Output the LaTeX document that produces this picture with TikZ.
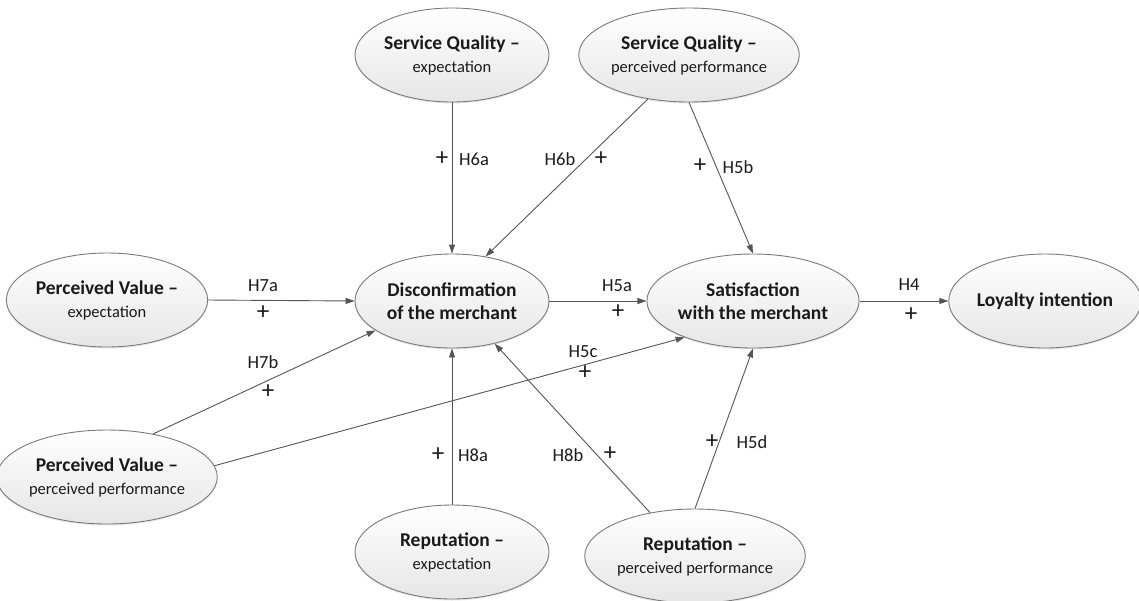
\documentclass[tikz,border=0pt]{standalone}
\usepackage{fontspec}
\setmainfont{Carlito}
\usetikzlibrary{shapes.geometric,arrows.meta,shadows}

\definecolor{ellborder}{HTML}{7A7A7A}
\definecolor{ellfill}{HTML}{E6E6E6}
\definecolor{linkgray}{HTML}{555555}
\definecolor{textdark}{HTML}{1A1A1A}

\newcommand\cname[1]{{\fontsize{19.5}{23}\selectfont\bfseries #1}}
\newcommand\csubtext[1]{{\fontsize{16.5}{23}\selectfont #1}}

\tikzset{
  construct/.style={ellipse, draw=ellborder, line width=0.9pt,
    top color=white, bottom color=ellfill,
    minimum width=194pt, minimum height=94pt, inner sep=0pt,
    align=center, text=textdark,
    font=\fontsize{19.5}{23}\selectfont,
    drop shadow={shadow xshift=0pt, shadow yshift=-1.5pt, opacity=0.18}},
  link/.style={draw=linkgray, line width=0.9pt,
    -{Triangle[length=9pt,width=6pt]}},
  lbl/.style={font=\fontsize{18.5}{20}\selectfont, text=textdark, inner sep=0pt},
  sign/.style={font=\fontsize{25}{26}\selectfont, text=textdark, inner sep=0pt}
}

\begin{document}
\begin{tikzpicture}[x=1pt, y=-1pt]
\useasboundingbox (0,0) rectangle (1139,600);

% constructs
\node[construct] (sqe)  at (452,55)  {\cname{Service Quality --}\\\csubtext{expectation}};
\node[construct] (sqp)  at (689,55)  {\cname{Service Quality --}\\\csubtext{perceived performance}};
\node[construct] (pve)  at (107,300) {\cname{Perceived Value --}\\\csubtext{expectation}};
\node[construct] (dis)  at (452,301) {\cname{Disconfirmation}\\\cname{of the merchant}};
\node[construct] (sat)  at (753,301) {\cname{Satisfaction}\\\cname{with the merchant}};
\node[construct, minimum width=186pt] (loy) at (1045,301) {\cname{Loyalty intention}};
\node[construct] (pvp)  at (107,477) {\cname{Perceived Value --}\\\csubtext{perceived performance}};
\node[construct] (repe) at (452,552) {\cname{Reputation --}\\\csubtext{expectation}};
\node[construct] (repp) at (695,556) {\cname{Reputation --}\\\csubtext{perceived performance}};

% hypothesised paths
\draw[link] (sqe.south) -- (dis.north);
\draw[link] (sqp.227) -- (dis.53.5);
\draw[link] (sqp.south) -- (sat.north);
\draw[link] (pve.east) -- (dis.west);
\draw[link] (pvp.43.7) -- (dis.201.8);
\draw[link] (pvp.6) -- (sat.208.6);
\draw[link] (dis.east) -- (sat.west);
\draw[link] (sat.east) -- (loy.west);
\draw[link] (repe.north) -- (dis.south);
\draw[link] (repp.136) -- (dis.-45);
\draw[link] (repp.north) -- (sat.south);

% path labels
\node[sign] (p6a) at (442,159) {+};
\node[lbl]  (h6a) at (474,159) {H6a};
\node[lbl]  (h6b) at (560,159) {H6b};
\node[sign] (p6b) at (601,159) {+};
\node[sign] (p5b) at (700,166) {+};
\node[lbl]  (h5b) at (738,167) {H5b};
\node[lbl]  (h7a) at (263,286) {H7a};
\node[sign] (p7a) at (263,313) {+};
\node[lbl]  (h7b) at (263,362) {H7b};
\node[sign] (p7b) at (268,392) {+};
\node[lbl]  (h5a) at (617,286) {H5a};
\node[sign] (p5a) at (618,312) {+};
\node[lbl]  (h4)  at (909,285) {H4};
\node[sign] (p4)  at (911,315) {+};
\node[lbl]  (h5c) at (583,352) {H5c};
\node[sign] (p5c) at (585,373) {+};
\node[sign] (p8a) at (438,455) {+};
\node[lbl]  (h8a) at (473,455) {H8a};
\node[lbl]  (h8b) at (568,455) {H8b};
\node[sign] (p8b) at (610,454) {+};
\node[sign] (p5d) at (712,442) {+};
\node[lbl]  (h5d) at (752,442) {H5d};
\end{tikzpicture}
\end{document}
